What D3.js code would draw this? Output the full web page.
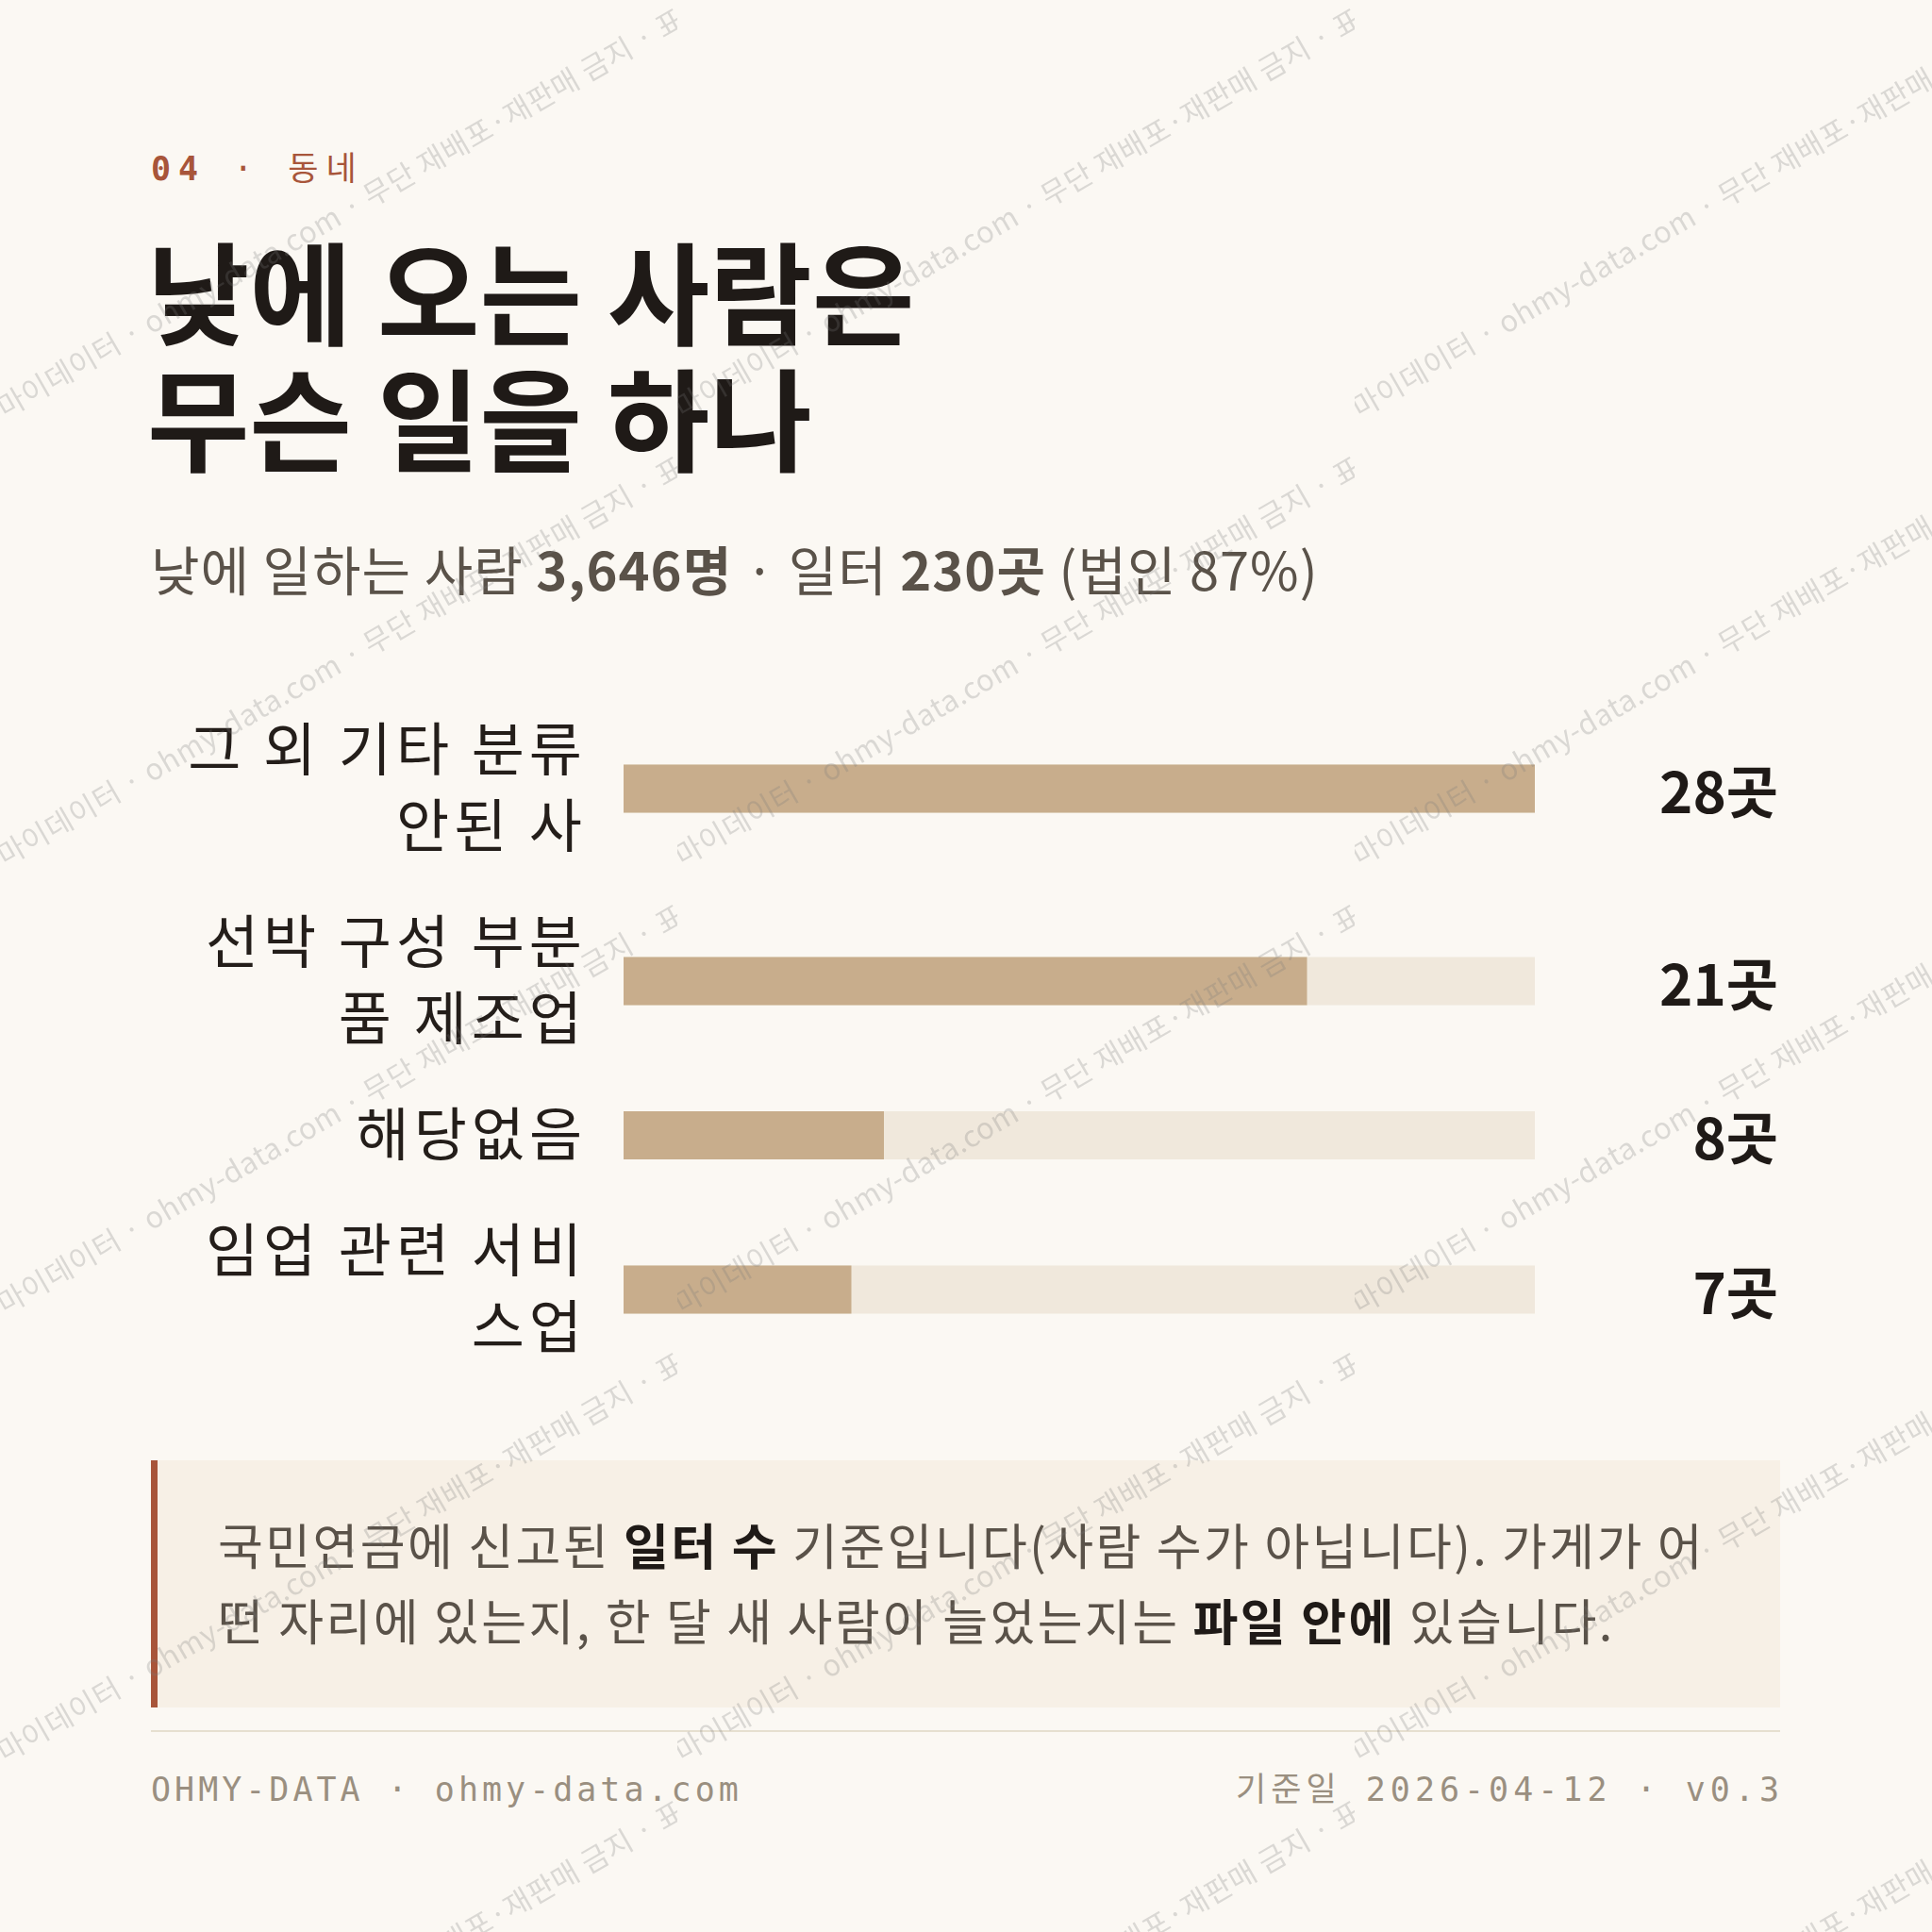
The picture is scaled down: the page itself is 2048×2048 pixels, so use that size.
<!DOCTYPE html>
<html><head><meta charset="utf-8">
<script src="https://cdn.jsdelivr.net/npm/d3@7"></script>
<style>html,body{margin:0;padding:0;background:#fbf8f3;}</style>
</head><body><div id="chart"></div>
<script>
// ---- data ----
const categories = ["그 외 기타 분류 안된 사", "선박 구성 부분품 제조업", "해당없음", "임업 관련 서비스업"];
const values = [28, 21, 8, 7];
const valueUnit = "곳";
const eyebrowNum = "04";
const eyebrowText = "동네";
const titleLines = ["낮에 오는 사람은", "무슨 일을 하나"];
const subtitleParts = [
  ["낮에 일하는 사람 ", false], ["3,646명", true], [" · 일터 ", false], ["230곳", true], [" (법인 87%)", false]
];
const noteLines = [
  [["국민연금에 신고된 ", false], ["일터 수", true], [" 기준입니다(사람 수가 아닙니다). 가게가 어", false]],
  [["떤 자리에 있는지, 한 달 새 사람이 늘었는지는 ", false], ["파일 안에", true], [" 있습니다.", false]]
];
const footerLeft = "OHMY-DATA · ohmy-data.com";
const footerRight = "기준일 2026-04-12 · v0.3";
const watermarkText = "마이데이터 · ohmy-data.com · 무단 재배포·재판매 금지 · 표본";

// ---- style ----
const W = 2048, H = 2048;
const KR = "'Noto Sans CJK KR','Noto Sans',sans-serif";
const MONO = "'DejaVu Sans Mono','Noto Sans CJK KR',monospace";
const C = {bg:"#fbf8f3", ink:"#1f1a17", label:"#241e1a", sub:"#5a5249", accent:"#a8553a", bar:"#c8ad8c", track:"#f0e8dc",
           note:"#f7f0e6", rule:"#e6dfd0", foot:"#9a8f80"};
const left = 160, right = 1887;

const svg = d3.select("#chart").append("svg").attr("width", W).attr("height", H)
  .attr("viewBox", `0 0 ${W} ${H}`).style("display","block");
svg.append("rect").attr("width", W).attr("height", H).attr("fill", C.bg);

// eyebrow
const eb = svg.append("text").attr("x", left).attr("y", 191)
  .attr("font-family", MONO).attr("font-size", 35).attr("letter-spacing", 8).attr("fill", C.accent)
  .attr("xml:space","preserve");
eb.append("tspan").attr("font-weight", 700).text(eyebrowNum);
eb.append("tspan").text(" · " + eyebrowText);

// title (one text, two lines)
const tt = svg.append("text").attr("font-family", KR).attr("font-weight", 700).attr("font-size", 118)
  .attr("fill", C.ink);
tt.selectAll("tspan").data(titleLines).join("tspan")
  .attr("x", left - 4).attr("y", (d, i) => 357 + i * 134).text(d => d);

// subtitle
const st = svg.append("text").attr("x", left).attr("y", 626).attr("xml:space","preserve")
  .attr("font-family", KR).attr("font-size", 56).attr("letter-spacing", 1).attr("fill", C.sub);
st.selectAll("tspan").data(subtitleParts).join("tspan")
  .attr("font-weight", d => d[1] ? 700 : 400).text(d => d[0]);

// ---- bars ----
const labelRight = 617, barX0 = 661, barX1 = 1627, barH = 51, lineH = 81, rowGap = 42, rowTop0 = 755;
const labelFont = 61, labelLS = 5;
const x = d3.scaleLinear().domain([0, d3.max(values)]).range([barX0, barX1]);

const meas = svg.append("text").attr("font-family", KR).attr("font-size", labelFont)
  .attr("letter-spacing", labelLS).attr("visibility","hidden");
function measure(s){ meas.text(s); return meas.node().getComputedTextLength(); }
function wrap(s, maxW){
  const lines = []; let cur = "";
  for (const ch of s) {
    const t = cur + ch;
    if (measure(t.trim()) > maxW && cur.trim().length) { lines.push(cur.trim()); cur = ch === " " ? "" : ch; }
    else cur = t;
  }
  if (cur.trim().length) lines.push(cur.trim());
  return lines;
}
const wrapped = categories.map(c => wrap(c, 435));
meas.remove();

let yTop = rowTop0;
const rows = wrapped.map((lines, i) => {
  const h = Math.max(lines.length * lineH, barH);
  const r = {lines, value: values[i], cy: yTop + h / 2};
  yTop += h + rowGap;
  return r;
});

const gRows = svg.append("g").selectAll("g").data(rows).join("g");
gRows.append("rect").attr("x", x(0)).attr("width", x.range()[1] - x(0))
  .attr("y", d => d.cy - barH / 2).attr("height", barH).attr("fill", C.track);
gRows.append("rect").attr("x", x(0)).attr("width", d => x(d.value) - x(0))
  .attr("y", d => d.cy - barH / 2).attr("height", barH).attr("fill", C.bar);
gRows.each(function(d){
  const g = d3.select(this);
  const n = d.lines.length;
  g.selectAll("text.lab").data(d.lines).join("text").attr("class","lab")
    .attr("x", labelRight + labelLS).attr("y", (t, j) => d.cy + (j - (n - 1) / 2) * lineH)
    .attr("dy", "0.36em").attr("text-anchor", "end").attr("letter-spacing", labelLS)
    .attr("font-family", KR).attr("font-size", labelFont).attr("fill", C.label).text(t => t);
});
gRows.append("text").attr("x", 1885).attr("y", d => d.cy + 4).attr("dy", "0.36em")
  .attr("text-anchor", "end").attr("font-family", KR).attr("font-weight", 700)
  .attr("font-size", 60).attr("fill", C.ink).text(d => d3.format(",")(d.value) + valueUnit);

// ---- note ----
svg.append("rect").attr("x", left).attr("y", 1548).attr("width", right - left).attr("height", 262).attr("fill", C.note);
svg.append("rect").attr("x", left).attr("y", 1548).attr("width", 7).attr("height", 262).attr("fill", C.accent);
svg.append("g").selectAll("text").data(noteLines).join("text")
  .attr("x", 231).attr("y", (d, i) => 1640 + i * 80).attr("dy", "0.36em")
  .attr("xml:space","preserve")
  .attr("font-family", KR).attr("font-size", 52).attr("letter-spacing", 2.4).attr("fill", C.sub)
  .each(function(parts){
    d3.select(this).selectAll("tspan").data(parts).join("tspan")
      .attr("font-weight", p => p[1] ? 700 : 400).attr("fill", p => p[1] ? C.ink : C.sub).text(p => p[0]);
  });

// rule + footer
svg.append("line").attr("x1", left).attr("x2", right).attr("y1", 1835).attr("y2", 1835)
  .attr("stroke", C.rule).attr("stroke-width", 2);
svg.append("text").attr("x", left).attr("y", 1896).attr("dy", "0.36em")
  .attr("font-family", MONO).attr("font-size", 35).attr("letter-spacing", 4).attr("fill", C.foot).text(footerLeft);
svg.append("text").attr("x", right + 4).attr("y", 1896).attr("dy", "0.36em").attr("text-anchor", "end")
  .attr("font-family", MONO).attr("font-size", 35).attr("letter-spacing", 5).attr("fill", C.foot).text(footerRight);

// ---- watermark ----
const tileW = 718, tileH = 475;
const defs = svg.append("defs");
const pat = defs.append("pattern").attr("id", "wm").attr("patternUnits", "userSpaceOnUse")
  .attr("width", tileW).attr("height", tileH);
pat.append("text").attr("x", 6).attr("y", 447)
  .attr("transform", "rotate(-30 0 447)").attr("letter-spacing", 0.6)
  .attr("font-family", KR).attr("font-size", 31).attr("fill", "#787878").attr("fill-opacity", 0.25)
  .text(watermarkText);
pat.append("text").attr("x", -2).attr("y", 447).attr("text-anchor", "end")
  .attr("transform", "rotate(-30 0 447)")
  .attr("font-family", KR).attr("font-size", 31).attr("fill", "#787878").attr("fill-opacity", 0.25)
  .text("금지 ·");
svg.append("rect").attr("width", W).attr("height", H).attr("fill", "url(#wm)").attr("pointer-events","none");
</script>
</body></html>
